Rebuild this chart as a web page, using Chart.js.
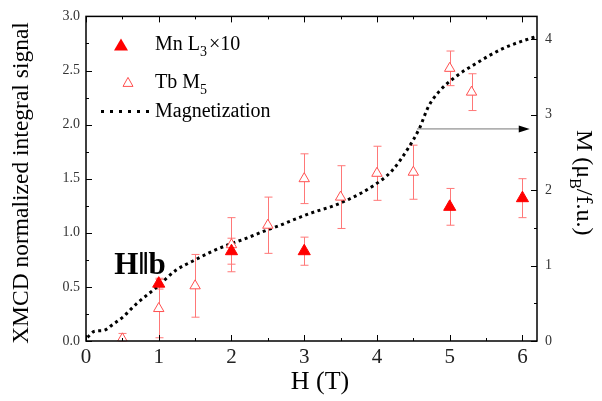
<!DOCTYPE html>
<html>
<head>
<meta charset="utf-8">
<script src="https://cdn.jsdelivr.net/npm/chart.js@4.4.1/dist/chart.umd.min.js"></script>
<style>
  html, body { margin: 0; padding: 0; background: #fff; }
  #wrap { width: 602px; height: 401px; }
</style>
</head>
<body>
<div id="wrap"><canvas id="xmcd" width="602" height="401"></canvas></div>
<script>
// data
const mnH = [1, 2, 3, 5, 6];
const mnSignal = [0.53, 0.83, 0.83, 1.24, 1.32];
const mnErr = [0.05, 0.12, 0.13, 0.17, 0.18];

const tbH = [0.5, 1, 1.5, 2, 2.5, 3, 3.5, 4, 4.5, 5, 5.3];
const tbSignal = [0.02, 0.30, 0.51, 0.89, 1.07, 1.50, 1.33, 1.55, 1.56, 2.52, 2.30];
const tbErr = [0.05, 0.27, 0.29, 0.25, 0.26, 0.23, 0.29, 0.25, 0.25, 0.16, 0.17];

const magH = [0.02, 0.12, 0.24, 0.37, 0.51, 0.69, 0.97, 1.24, 1.47, 1.74, 1.97, 2.20, 2.46, 2.66, 2.89, 3.11, 3.40, 3.62, 3.94, 4.21, 4.44, 4.58, 4.71, 4.85, 5.08, 5.35, 5.72, 6.08, 6.18];
const magM = [0.05, 0.13, 0.14, 0.22, 0.32, 0.49, 0.71, 0.94, 1.06, 1.19, 1.28, 1.36, 1.46, 1.53, 1.62, 1.70, 1.79, 1.88, 2.05, 2.26, 2.57, 2.81, 3.11, 3.30, 3.50, 3.67, 3.87, 4.00, 4.03];

const xTicks = [0, 1, 2, 3, 4, 5, 6];
const yTicks = [0, 0.5, 1.0, 1.5, 2.0, 2.5, 3.0];
const y2Ticks = [0, 1, 2, 3, 4];

// annotation: arrow pointing to the right axis, and the field label
const arrowFrom = [4.55, 1.96];
const arrowTo = [6.1, 1.96];
const fieldLabelAt = [0.39, 0.69];

const SERIF = '"Liberation Serif", "DejaVu Serif", serif';
const errColor = 'rgb(255,120,120)';

function pts(xs, ys) { return xs.map((x, i) => ({ x: x, y: ys[i] })); }

function fixTicks(list) {
    return function (scale) { scale.ticks = list.map(v => ({ value: v })); };
}

const drawExtras = {
    id: 'drawExtras',
    beforeDatasetsDraw(chart) {
        const ctx = chart.ctx, x = chart.scales.x, y = chart.scales.y;
        ctx.save();
        ctx.strokeStyle = errColor;
        ctx.lineWidth = 1;
        const bars = (hs, vs, es) => hs.forEach((h, i) => {
            const px = Math.round(x.getPixelForValue(h)) + 0.5;
            const top = y.getPixelForValue(vs[i] + es[i]);
            const bot = y.getPixelForValue(Math.max(0, vs[i] - es[i]));
            ctx.beginPath();
            ctx.moveTo(px, top); ctx.lineTo(px, bot);
            ctx.moveTo(px - 4, top); ctx.lineTo(px + 4, top);
            ctx.moveTo(px - 4, bot); ctx.lineTo(px + 4, bot);
            ctx.stroke();
        });
        bars(tbH, tbSignal, tbErr);
        bars(mnH, mnSignal, mnErr);
        ctx.restore();
    },
    afterDraw(chart) {
        const ctx = chart.ctx, a = chart.chartArea;
        const x = chart.scales.x, y = chart.scales.y, y2 = chart.scales.y2;
        ctx.save();
        // frame
        ctx.strokeStyle = '#000';
        ctx.lineWidth = 1.5;
        ctx.strokeRect(a.left, a.top, a.right - a.left, a.bottom - a.top);
        ctx.lineWidth = 1;
        // ticks, all pointing inward
        ctx.beginPath();
        for (let v = 0; v <= 6.001; v += 0.5) {
            const px = Math.round(x.getPixelForValue(v)) + 0.5;
            const len = Math.abs(v - Math.round(v)) < 1e-6 ? 6 : 3;
            ctx.moveTo(px, a.bottom); ctx.lineTo(px, a.bottom - len);
            ctx.moveTo(px, a.top); ctx.lineTo(px, a.top + len);
        }
        for (let v = 0; v <= 3.001; v += 0.25) {
            const py = Math.round(y.getPixelForValue(v)) + 0.5;
            const len = Math.abs(v * 2 - Math.round(v * 2)) < 1e-6 ? 6 : 3;
            ctx.moveTo(a.left, py); ctx.lineTo(a.left + len, py);
        }
        for (let v = 0; v <= 4.001; v += 0.5) {
            const py = Math.round(y2.getPixelForValue(v)) + 0.5;
            const len = Math.abs(v - Math.round(v)) < 1e-6 ? 6 : 3;
            ctx.moveTo(a.right, py); ctx.lineTo(a.right - len, py);
        }
        ctx.stroke();

        // arrow
        const ax0 = x.getPixelForValue(arrowFrom[0]), ay = y.getPixelForValue(arrowFrom[1]);
        const ax1 = x.getPixelForValue(arrowTo[0]);
        ctx.strokeStyle = '#777';
        ctx.lineWidth = 1;
        ctx.beginPath(); ctx.moveTo(ax0, ay); ctx.lineTo(ax1 - 8, ay); ctx.stroke();
        ctx.fillStyle = '#000';
        ctx.beginPath();
        ctx.moveTo(ax1, ay); ctx.lineTo(ax1 - 11, ay - 3.5); ctx.lineTo(ax1 - 11, ay + 3.5);
        ctx.closePath(); ctx.fill();

        // H||b label
        ctx.fillStyle = '#000';
        ctx.font = 'bold 31px ' + SERIF;
        ctx.textBaseline = 'middle';
        ctx.textAlign = 'left';
        ctx.fillText('H\u2016b', x.getPixelForValue(fieldLabelAt[0]), y.getPixelForValue(fieldLabelAt[1]));

        // legend
        const lx = a.left, ly = a.top;
        ctx.fillStyle = '#ff0000';
        ctx.beginPath();
        ctx.moveTo(lx + 35, ly + 22); ctx.lineTo(lx + 42, ly + 34); ctx.lineTo(lx + 28, ly + 34);
        ctx.closePath(); ctx.fill();
        ctx.strokeStyle = 'rgb(255,80,80)';
        ctx.lineWidth = 1;
        ctx.beginPath();
        ctx.moveTo(lx + 42, ly + 61); ctx.lineTo(lx + 47, ly + 70); ctx.lineTo(lx + 37, ly + 70);
        ctx.closePath(); ctx.stroke();
        ctx.strokeStyle = '#000';
        ctx.lineWidth = 3;
        ctx.setLineDash([3, 6]);
        ctx.beginPath(); ctx.moveTo(lx + 15, ly + 95); ctx.lineTo(lx + 68, ly + 95); ctx.stroke();
        ctx.setLineDash([]);

        ctx.fillStyle = '#000';
        const big = '20px ' + SERIF, small = '14px ' + SERIF;
        const run = (parts, px, py) => {
            parts.forEach(p => {
                ctx.font = p.sub ? small : big;
                ctx.fillText(p.t, px, py + (p.sub ? 8 : 0));
                px += ctx.measureText(p.t).width + (p.sub ? 2 : 0);
            });
        };
        ctx.textBaseline = 'middle';
        run([{ t: 'Mn L' }, { t: '3', sub: true }, { t: '\u00d710' }], lx + 69, ly + 28);
        run([{ t: 'Tb M' }, { t: '5', sub: true }], lx + 69, ly + 66);
        run([{ t: 'Magnetization' }], lx + 69, ly + 95);

        // axis titles
        ctx.textAlign = 'center';
        ctx.font = '26px ' + SERIF;
        ctx.fillText('H (T)', 320, 382);

        ctx.save();
        ctx.translate(22, 183);
        ctx.rotate(-Math.PI / 2);
        ctx.font = '23.5px ' + SERIF;
        ctx.fillText('XMCD normalized integral signal', 0, 0);
        ctx.restore();

        ctx.save();
        ctx.translate(583, 130);
        ctx.rotate(Math.PI / 2);
        ctx.textAlign = 'left';
        let tx = 0;
        const tparts = [{ t: 'M (\u03bc' }, { t: 'B', sub: true }, { t: '/f.u.)' }];
        tparts.forEach(p => {
            ctx.font = p.sub ? '16px ' + SERIF : '24px ' + SERIF;
            ctx.fillText(p.t, tx, p.sub ? 9 : 0);
            tx += ctx.measureText(p.t).width;
        });
        ctx.restore();
        ctx.restore();
    }
};

new Chart(document.getElementById('xmcd'), {
    type: 'scatter',
    data: {
        datasets: [
            {
                label: 'Magnetization',
                data: pts(magH, magM),
                yAxisID: 'y2',
                showLine: true,
                borderColor: '#000',
                borderWidth: 3,
                borderDash: [3, 3.5],
                cubicInterpolationMode: 'monotone',
                pointRadius: 0,
                order: 3
            },
            {
                label: 'Tb M5',
                data: pts(tbH, tbSignal),
                yAxisID: 'y',
                pointStyle: 'triangle',
                pointRadius: 6,
                borderWidth: 1,
                borderColor: 'rgb(255,80,80)',
                backgroundColor: '#fff',
                order: 2
            },
            {
                label: 'Mn L3x10',
                data: pts(mnH, mnSignal),
                yAxisID: 'y',
                pointStyle: 'triangle',
                pointRadius: 7,
                borderWidth: 1,
                borderColor: '#ff0000',
                backgroundColor: '#ff0000',
                order: 1
            }
        ]
    },
    options: {
        responsive: false,
        animation: false,
        layout: { padding: { top: 10, left: 0, right: 0, bottom: 0 } },
        plugins: { legend: { display: false }, tooltip: { enabled: false } },
        scales: {
            x: {
                type: 'linear', min: 0, max: 6.2,
                afterBuildTicks: fixTicks(xTicks),
                afterFit(s) { s.height = 60; },
                grid: { display: false, drawTicks: false },
                border: { display: false },
                ticks: { padding: 4, color: '#222', font: { family: SERIF, size: 21 }, maxRotation: 0 }
            },
            y: {
                position: 'left', min: 0, max: 3,
                afterBuildTicks: fixTicks(yTicks),
                afterFit(s) { s.width = 86; },
                grid: { display: false, drawTicks: false },
                border: { display: false },
                ticks: { padding: 6, color: '#333', font: { family: SERIF, size: 14 }, callback: v => v.toFixed(1) }
            },
            y2: {
                position: 'right', min: 0, max: 4.3,
                afterBuildTicks: fixTicks(y2Ticks),
                afterFit(s) { s.width = 65; },
                grid: { display: false, drawTicks: false },
                border: { display: false },
                ticks: { padding: 8, color: '#333', font: { family: SERIF, size: 14 }, callback: v => String(v) }
            }
        }
    },
    plugins: [drawExtras]
});
</script>
</body>
</html>
